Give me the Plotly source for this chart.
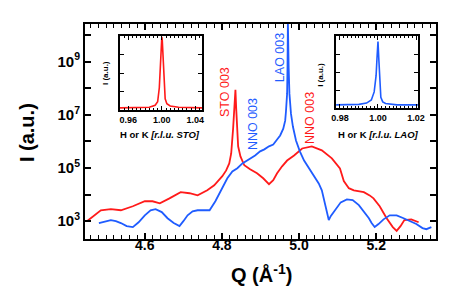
import plotly.graph_objects as go

# ---- main scan data ----
red_q = [4.450, 4.468, 4.486, 4.512, 4.538, 4.569, 4.600, 4.620, 4.639, 4.664, 4.693, 4.716, 4.737,
         4.762, 4.780, 4.801, 4.811, 4.819, 4.824, 4.829, 4.832, 4.835, 4.837, 4.840, 4.842, 4.848,
         4.858, 4.873, 4.891, 4.907, 4.922, 4.933, 4.943, 4.956, 4.969, 4.987, 5.008, 5.033, 5.059,
         5.085, 5.106, 5.116, 5.129, 5.142, 5.168, 5.183, 5.193, 5.209, 5.227, 5.243, 5.253, 5.263,
         5.273, 5.291, 5.310]
red_i = [1.0e3, 1.66e3, 2.57e3, 2.82e3, 2.57e3, 3.63e3, 5.6e3, 5.6e3, 4.7e3, 7.2e3, 1.23e4, 1.12e4, 9.3e3,
         1.45e4, 2.24e4, 4.9e4, 8.1e4, 1.48e5, 3.5e5, 3.0e6, 1.7e7, 8.7e7, 1.7e7, 3.0e6, 6.5e5, 2.7e5,
         1.26e5, 8.9e4, 6.3e4, 4.1e4, 2.45e4, 3.5e4, 6.3e4, 1.15e5, 1.9e5, 2.95e5, 5.4e5, 6.5e5, 4.6e5,
         2.3e5, 9.5e4, 3.2e4, 1.74e4, 1.45e4, 1.23e4, 9.3e3, 7.2e3, 3.63e3, 1.29e3, 6.0e2, 4.3e2, 6.5e2,
         1.1e3, 1.17e3, 9.1e2]

blue_q = [4.481, 4.497, 4.512, 4.525, 4.538, 4.553, 4.569, 4.584, 4.600, 4.615, 4.628, 4.644, 4.659,
          4.675, 4.690, 4.700, 4.711, 4.724, 4.737, 4.752, 4.768, 4.783, 4.796, 4.806, 4.814, 4.827,
          4.840, 4.853, 4.866, 4.886, 4.899, 4.910, 4.922, 4.933, 4.943, 4.951, 4.959, 4.964, 4.966,
          4.969, 4.970, 4.971, 4.973, 4.975, 4.979, 4.984, 4.992, 5.002, 5.013, 5.026, 5.039, 5.051,
          5.059, 5.067, 5.072, 5.077, 5.082, 5.093, 5.108, 5.124, 5.139, 5.155, 5.168, 5.181, 5.188,
          5.196, 5.206, 5.219, 5.235, 5.253, 5.271, 5.289, 5.304, 5.320, 5.330, 5.343]
blue_i = [8.5e2, 1.0e3, 1.1e3, 1.0e3, 8.5e2, 6.5e2, 6.0e2, 9.1e2, 1.66e3, 2.57e3, 2.82e3, 2.19e3, 1.29e3,
          8.5e2, 6.5e2, 1.0e3, 1.66e3, 2.34e3, 2.57e3, 2.57e3, 2.57e3, 5.6e3, 1.32e4, 2.45e4, 4.1e4, 7.4e4,
          9.8e4, 1.48e5, 1.9e5, 2.95e5, 4.2e5, 5.0e5, 6.5e5, 7.6e5, 1.17e6, 1.66e6, 3.0e6, 6.0e6, 1.32e7,
          6.2e7, 5.8e8, 3.0e10, 5.8e8, 6.2e7, 1.1e7, 3.6e6, 1.07e6, 4.2e5, 1.9e5, 9.8e4, 4.9e4, 2.63e4,
          1.45e4, 4.7e3, 2.0e3, 1.1e3, 1.55e3, 2.57e3, 5.1e3, 6.6e3, 6.2e3, 4.0e3, 2.34e3, 1.29e3, 8.5e2,
          6.0e2, 7.8e2, 1.17e3, 1.66e3, 1.66e3, 1.29e3, 1.0e3, 7.8e2, 5.5e2, 5.0e2, 6.0e2]

# ---- inset rocking curves ----
sto_h = [0.950, 0.970, 0.985, 0.992, 0.995, 0.997, 0.998, 0.999, 0.9995, 1.000, 1.0005, 1.001, 1.002,
         1.003, 1.004, 1.006, 1.010, 1.020, 1.048]
sto_i = [1.3, 1.3, 1.4, 1.8, 2.8, 16, 160, 2500, 7900, 8900, 6300, 1600, 100, 10, 4.0, 2.2, 1.66, 1.4, 1.3]

lao_h = [0.978, 0.990, 0.994, 0.9965, 0.998, 0.999, 0.9995, 1.000, 1.0005, 1.001, 1.0015, 1.0025,
         1.004, 1.010, 1.021]
lao_i = [1.5, 1.6, 1.9, 2.8, 7.9, 63, 630, 5000, 400, 20, 4.0, 2.2, 1.8, 1.5, 1.5]

y_tickvals = [1e3, 1e4, 1e5, 1e6, 1e7, 1e8, 1e9, 1e10]
y_ticktext = ["10<sup>3</sup>", "", "10<sup>5</sup>", "", "10<sup>7</sup>", "", "10<sup>9</sup>", ""]

RED = "#ff1a1a"
BLUE = "#1f5cff"
FONT = "Liberation Sans, Arial, sans-serif"

fig = go.Figure()
fig.add_trace(go.Scatter(x=red_q, y=red_i, mode="lines", line=dict(color=RED, width=1.8),
                         xaxis="x", yaxis="y", showlegend=False))
fig.add_trace(go.Scatter(x=blue_q, y=blue_i, mode="lines", line=dict(color=BLUE, width=1.8),
                         xaxis="x", yaxis="y", showlegend=False))
fig.add_trace(go.Scatter(x=sto_h, y=sto_i, mode="lines", line=dict(color=RED, width=1.6),
                         xaxis="x2", yaxis="y2", showlegend=False))
fig.add_trace(go.Scatter(x=lao_h, y=lao_i, mode="lines", line=dict(color=BLUE, width=1.6),
                         xaxis="x3", yaxis="y3", showlegend=False))

main_ax = dict(showline=True, linecolor="black", linewidth=2, mirror="ticks", ticks="inside",
               showgrid=False, zeroline=False, tickcolor="black")
inset_ax = dict(showline=True, linecolor="black", linewidth=1.5, mirror="ticks", ticks="inside",
                showgrid=False, zeroline=False, tickcolor="black", ticklen=4, tickwidth=1)

fig.update_layout(
    width=463, height=293,
    margin=dict(l=77, r=35, t=16, b=62),
    paper_bgcolor="white", plot_bgcolor="white",
    font=dict(family=FONT, color="black"),
    xaxis=dict(**main_ax, range=[4.445, 5.355], dtick=0.2, tick0=4.6, tickformat=".1f",
               ticklen=6, tickwidth=1.5, ticklabelstandoff=-8,
               tickfont=dict(size=14, weight="bold"),
               minor=dict(dtick=0.02, tick0=4.6, ticks="inside", ticklen=4, tickcolor="black", tickwidth=1.2)),
    yaxis=dict(**main_ax, type="log", range=[2.33, 10.41], tickvals=y_tickvals, ticktext=y_ticktext,
               ticklen=6, tickwidth=1.5,
               tickfont=dict(size=15, weight="bold")),
    xaxis2=dict(**inset_ax, domain=[0.0997, 0.3333], anchor="y2", range=[0.950, 1.048],
                tickvals=[0.96, 1.00, 1.04], ticktext=["0.96", "1.00", "1.04"],
                tickfont=dict(size=9, weight="bold"),
                minor=dict(dtick=0.005, tick0=0.95, ticks="inside", ticklen=2.5, tickcolor="black")),
    yaxis2=dict(**inset_ax, domain=[0.6, 0.944], anchor="x2", type="log", range=[0, 4],
                tickvals=[1, 10, 100, 1000, 10000], showticklabels=False),
    xaxis3=dict(**inset_ax, domain=[0.715, 0.949], anchor="y3", range=[0.9779, 1.0211],
                tickvals=[0.98, 1.00, 1.02], ticktext=["0.98", "1.00", "1.02"],
                tickfont=dict(size=9, weight="bold"),
                minor=dict(dtick=0.002, tick0=0.98, ticks="inside", ticklen=2.5, tickcolor="black")),
    yaxis3=dict(**inset_ax, domain=[0.609, 0.944], anchor="x3", type="log", range=[0, 4],
                tickvals=[1, 10, 100, 1000, 10000], showticklabels=False),
)

ann = [
    dict(text="<b>I (a.u.)</b>", x=-0.165, y=0.493, textangle=-90, font=dict(size=20)),
    dict(text="<b>Q (Å<sup>-1</sup>)</b>", x=0.504, y=-0.16, font=dict(size=20)),
    dict(text="STO 003", x=0.399, y=0.684, textangle=-90, font=dict(size=12.5, color=RED)),
    dict(text="NNO 003", x=0.479, y=0.535, textangle=-90, font=dict(size=12.5, color=BLUE)),
    dict(text="LAO 003", x=0.556, y=0.842, textangle=-90, font=dict(size=12.5, color=BLUE)),
    dict(text="NNO 003", x=0.641, y=0.563, textangle=-90, font=dict(size=12.5, color=RED)),
    dict(text="<b>I (a.u.)</b>", x=0.057, y=0.772, textangle=-90, font=dict(size=8)),
    dict(text="<b>H or K <i>[r.l.u. STO]</i></b>", x=0.214, y=0.484, font=dict(size=9.5)),
    dict(text="<b>I (a.u.)</b>", x=0.672, y=0.763, textangle=-90, font=dict(size=8)),
    dict(text="<b>H or K <i>[r.l.u. LAO]</i></b>", x=0.835, y=0.484, font=dict(size=9.5)),
]
for a in ann:
    fig.add_annotation(xref="paper", yref="paper", showarrow=False, xanchor="center", yanchor="middle", **a)

fig.write_html("out.html")
